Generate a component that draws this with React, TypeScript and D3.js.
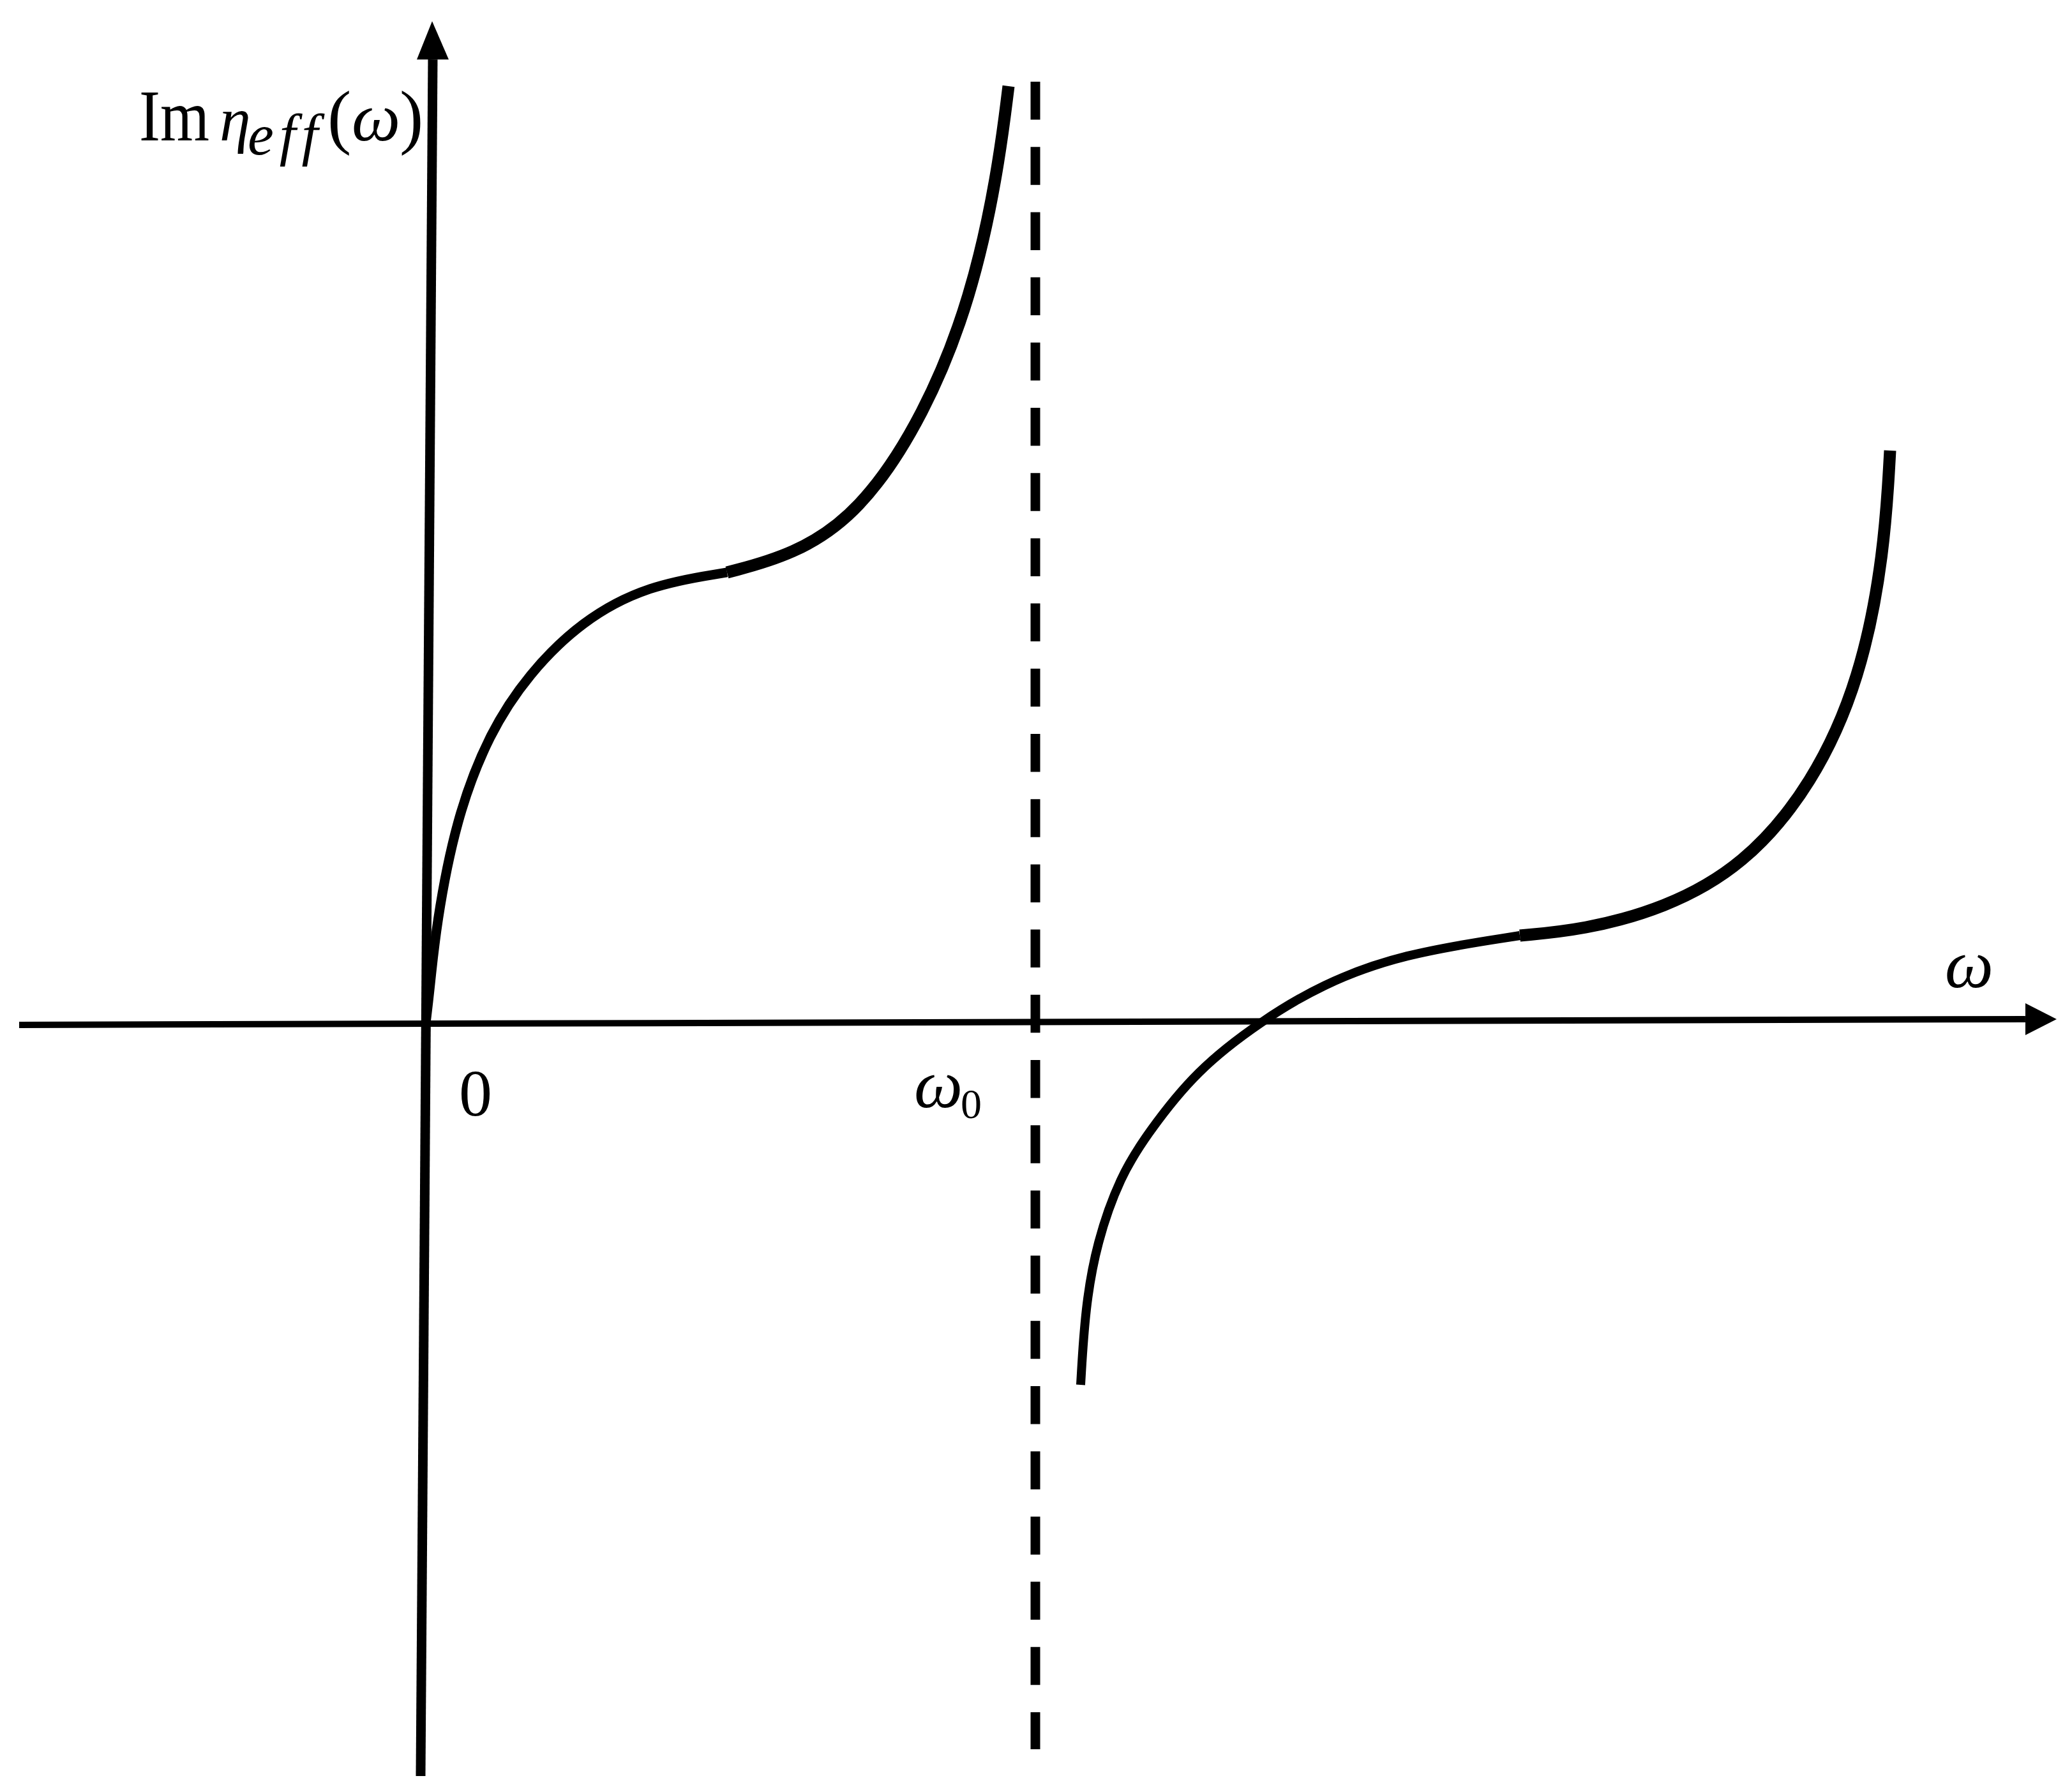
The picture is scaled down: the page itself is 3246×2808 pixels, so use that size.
import React from 'react';
import * as d3 from 'd3';

const W = 3246;
const H = 2808;

// omega in units of omega_0, Im eta_eff in the same units
const lowThin = [
  [0, 0], [0.0063, 0.0513], [0.0168, 0.1602], [0.0492, 0.334], [0.1037, 0.4754],
  [0.1686, 0.5728], [0.2555, 0.6597], [0.3634, 0.7183], [0.4942, 0.7393],
];
const lowThick = [
  [0.4942, 0.7393], [0.6021, 0.7675], [0.711, 0.8356], [0.8188, 0.9979],
  [0.8953, 1.1916], [0.9382, 1.3937], [0.956, 1.5372],
];
const highThin = [
  [1.0743, -0.5937], [1.0817, -0.4681], [1.1005, -0.3602], [1.1393, -0.2513],
  [1.1832, -0.1822], [1.2639, -0.0775], [1.3717, 0.0042], [1.4691, 0.0628],
  [1.599, 0.1131], [1.7948, 0.1435],
];
const highThick = [
  [1.7948, 0.1435], [1.8984, 0.1529], [2.0314, 0.1874], [2.1623, 0.2576],
  [2.2754, 0.3916], [2.3539, 0.5654], [2.3927, 0.7717], [2.4021, 0.9393],
];

// axis ends (slightly tilted as in the sketch)
const xAxisEnds = [[-0.667, -0.0031], [2.624, 0.0063]];
const yAxisEnds = [[-0.0084, -1.2356], [0.0115, 1.581]];
const asymptote = [[1, 1.5445], [1, -1.1916]];
const omega0 = 1;

const font = '"Liberation Serif", "DejaVu Serif", serif';

export default function App() {
  const x = d3.scaleLinear().domain([0, 1]).range([667, 1622]);
  const y = d3.scaleLinear().domain([0, 1]).range([1603, 648]);

  const line = d3
    .line<number[]>()
    .x((d) => x(d[0]))
    .y((d) => y(d[1]))
    .curve(d3.curveBasis);
  const straight = d3
    .line<number[]>()
    .x((d) => x(d[0]))
    .y((d) => y(d[1]));

  const xEnd = [x(xAxisEnds[1][0]), y(xAxisEnds[1][1])];
  const yEnd = [x(yAxisEnds[1][0]), y(yAxisEnds[1][1])];

  return (
    <svg
      width={W}
      height={H}
      style={{ position: 'absolute', left: 0, top: 0, display: 'block', background: '#fff' }}
    >
      {/* axes */}
      <path d={straight(xAxisEnds) || ''} stroke="#000" strokeWidth={10} fill="none" />
      <path
        d={`M${xEnd[0]},${xEnd[1] - 25}L${xEnd[0] + 49},${xEnd[1]}L${xEnd[0]},${xEnd[1] + 25}Z`}
        fill="#000"
      />
      <path d={straight(yAxisEnds) || ''} stroke="#000" strokeWidth={15} fill="none" />
      <path
        d={`M${yEnd[0] - 25},${yEnd[1]}L${yEnd[0] - 1},${yEnd[1] - 60}L${yEnd[0] + 25},${yEnd[1]}Z`}
        fill="#000"
      />

      {/* asymptote at omega_0 */}
      <path
        d={straight(asymptote) || ''}
        stroke="#000"
        strokeWidth={15}
        strokeDasharray="59.5 42.7"
        fill="none"
      />

      {/* branches */}
      <g fill="none" stroke="#000" strokeLinejoin="round">
        <path d={line(lowThin) || ''} strokeWidth={15} />
        <path d={line(lowThick) || ''} strokeWidth={19} />
        <path d={line(highThin) || ''} strokeWidth={14} />
        <path d={line(highThick) || ''} strokeWidth={19} />
      </g>

      {/* labels */}
      <g fontFamily={font} fill="#000">
        <text y={220} fontSize={112}>
          <tspan x={218} fontSize={114} textLength={110} lengthAdjust="spacingAndGlyphs">Im</tspan>
          <tspan x={344} fontSize={98} fontStyle="italic">η</tspan>
          <tspan x={388} y={242} fontSize={92} fontStyle="italic" letterSpacing={9}>eff</tspan>
          <tspan x={513} y={220}>(</tspan>
          <tspan x={551} fontSize={108} fontStyle="italic">ω</tspan>
          <tspan x={626}>)</tspan>
        </text>

        <text x={745} y={1748} fontSize={104} textAnchor="middle">0</text>

        <text y={1735} fontSize={108}>
          <tspan x={x(omega0) - 190} fontStyle="italic">ω</tspan>
          <tspan x={x(omega0) - 117} y={1752} fontSize={66}>0</tspan>
        </text>

        <text x={3085} y={1547} fontSize={108} fontStyle="italic" textAnchor="middle">ω</text>
      </g>
    </svg>
  );
}
